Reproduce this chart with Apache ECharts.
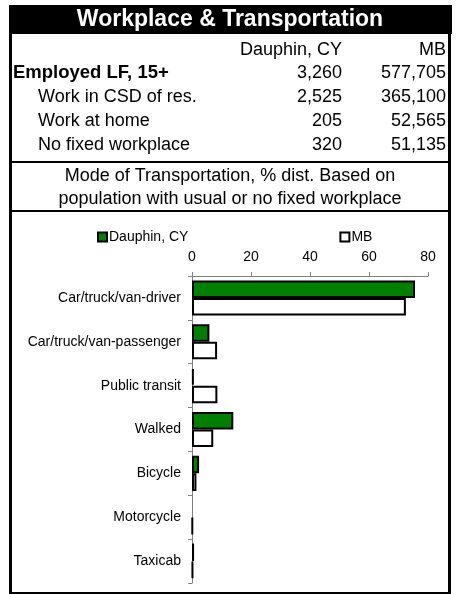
<!DOCTYPE html>
<html>
<head>
<meta charset="utf-8">
<script src="https://cdn.jsdelivr.net/npm/echarts@6/dist/echarts.min.js"></script>
<style>
  html, body { margin: 0; padding: 0; background: #fff; }
  #chart { width: 458px; height: 594px; }
</style>
</head>
<body>
<div id="chart"></div>
<script>
// table part
var titleText = 'Workplace & Transportation';
var colHeads = ['Dauphin, CY', 'MB'];
var rowLabels = ['Employed LF, 15+', 'Work in CSD of res.', 'Work at home', 'No fixed workplace'];
var dauphinCounts = [3260, 2525, 205, 320];
var mbCounts = [577705, 365100, 52565, 51135];
var subTitle = ['Mode of Transportation, % dist. Based on', 'population with usual or no fixed workplace'];

// chart part
var modes = ['Car/truck/van-driver', 'Car/truck/van-passenger', 'Public transit', 'Walked', 'Bicycle', 'Motorcycle', 'Taxicab'];
var dauphinPct = [75.6, 5.9, 0.6, 14.0, 2.4, 0, 0.7];
var mbPct = [72.5, 8.5, 8.6, 7.2, 1.5, 0.2, 0.3];
var xTicks = [0, 20, 40, 60, 80];

var FONT = "'Liberation Sans', Arial, sans-serif";

function fmt(n) { return n.toLocaleString('en-US'); }

// zero-length bars get no outline (as in the original)
function barData(arr) {
  return arr.map(function (v) {
    return v === 0 ? { value: v, itemStyle: { borderWidth: 0 } } : v;
  });
}

var chart = echarts.init(document.getElementById('chart'));

// frame + table text
var g = [];
g.push({ type: 'rect', shape: { x: 9, y: 5, width: 443, height: 29 }, style: { fill: '#000' } });
g.push({ type: 'rect', shape: { x: 9, y: 5, width: 3, height: 589 }, style: { fill: '#000' } });
g.push({ type: 'rect', shape: { x: 448, y: 5, width: 3, height: 589 }, style: { fill: '#000' } });
g.push({ type: 'rect', shape: { x: 9, y: 592, width: 442, height: 2 }, style: { fill: '#000' } });
g.push({ type: 'rect', shape: { x: 9, y: 161, width: 442, height: 2 }, style: { fill: '#000' } });
g.push({ type: 'rect', shape: { x: 9, y: 210, width: 442, height: 2 }, style: { fill: '#000' } });
g.push({ type: 'text', x: 230, y: 20, style: { text: titleText, fill: '#fff', font: 'bold 23px ' + FONT, align: 'center', verticalAlign: 'middle' } });

var rowY = [73, 97, 121, 145];
g.push({ type: 'text', x: 342, y: 50, style: { text: colHeads[0], fill: '#000', font: '18px ' + FONT, align: 'right', verticalAlign: 'middle' } });
g.push({ type: 'text', x: 446, y: 50, style: { text: colHeads[1], fill: '#000', font: '18px ' + FONT, align: 'right', verticalAlign: 'middle' } });
rowLabels.forEach(function (lab, i) {
  var first = i === 0;
  g.push({ type: 'text', x: first ? 13 : 38, y: rowY[i], style: { text: lab, fill: '#000', font: (first ? 'bold 18.5px ' : '18px ') + FONT, align: 'left', verticalAlign: 'middle' } });
  g.push({ type: 'text', x: 342, y: rowY[i], style: { text: fmt(dauphinCounts[i]), fill: '#000', font: '18px ' + FONT, align: 'right', verticalAlign: 'middle' } });
  g.push({ type: 'text', x: 446, y: rowY[i], style: { text: fmt(mbCounts[i]), fill: '#000', font: '18px ' + FONT, align: 'right', verticalAlign: 'middle' } });
});
g.push({ type: 'text', x: 230, y: 176, style: { text: subTitle[0], fill: '#000', font: '18px ' + FONT, align: 'center', verticalAlign: 'middle' } });
g.push({ type: 'text', x: 230, y: 199, style: { text: subTitle[1], fill: '#000', font: '18px ' + FONT, align: 'center', verticalAlign: 'middle' } });

var option = {
  animation: false,
  backgroundColor: '#fff',
  textStyle: { fontFamily: FONT },
  graphic: g,
  legend: {
    data: ['Dauphin, CY', 'MB'],
    left: 97,
    top: 230,
    padding: 0,
    icon: 'rect',
    itemWidth: 9,
    itemHeight: 9,
    itemGap: 151,
    textStyle: { fontSize: 14, color: '#000', fontFamily: FONT, padding: [0, 0, 0, -3] }
  },
  grid: { left: 192, top: 276, width: 236, height: 307 },
  xAxis: {
    type: 'value',
    position: 'top',
    min: xTicks[0],
    max: xTicks[xTicks.length - 1],
    interval: 20,
    splitLine: { show: false },
    axisLine: { show: true, lineStyle: { color: '#808080', width: 1 } },
    axisTick: { show: true, length: 4, lineStyle: { color: '#808080' } },
    axisLabel: { fontSize: 14, color: '#000', margin: 12 }
  },
  yAxis: {
    type: 'category',
    inverse: true,
    data: modes,
    axisLine: { show: true, lineStyle: { color: '#808080', width: 1 } },
    axisTick: { show: true, length: 4, lineStyle: { color: '#808080' } },
    axisLabel: { fontSize: 14, color: '#000', margin: 11 }
  },
  series: [
    {
      name: 'Dauphin, CY',
      type: 'bar',
      data: barData(dauphinPct),
      barGap: '0%',
      barCategoryGap: '20%',
      itemStyle: { color: '#008000', borderColor: '#000', borderWidth: 2 }
    },
    {
      name: 'MB',
      type: 'bar',
      data: barData(mbPct),
      itemStyle: { color: '#fff', borderColor: '#000', borderWidth: 2 }
    }
  ]
};
chart.setOption(option);
</script>
</body>
</html>
